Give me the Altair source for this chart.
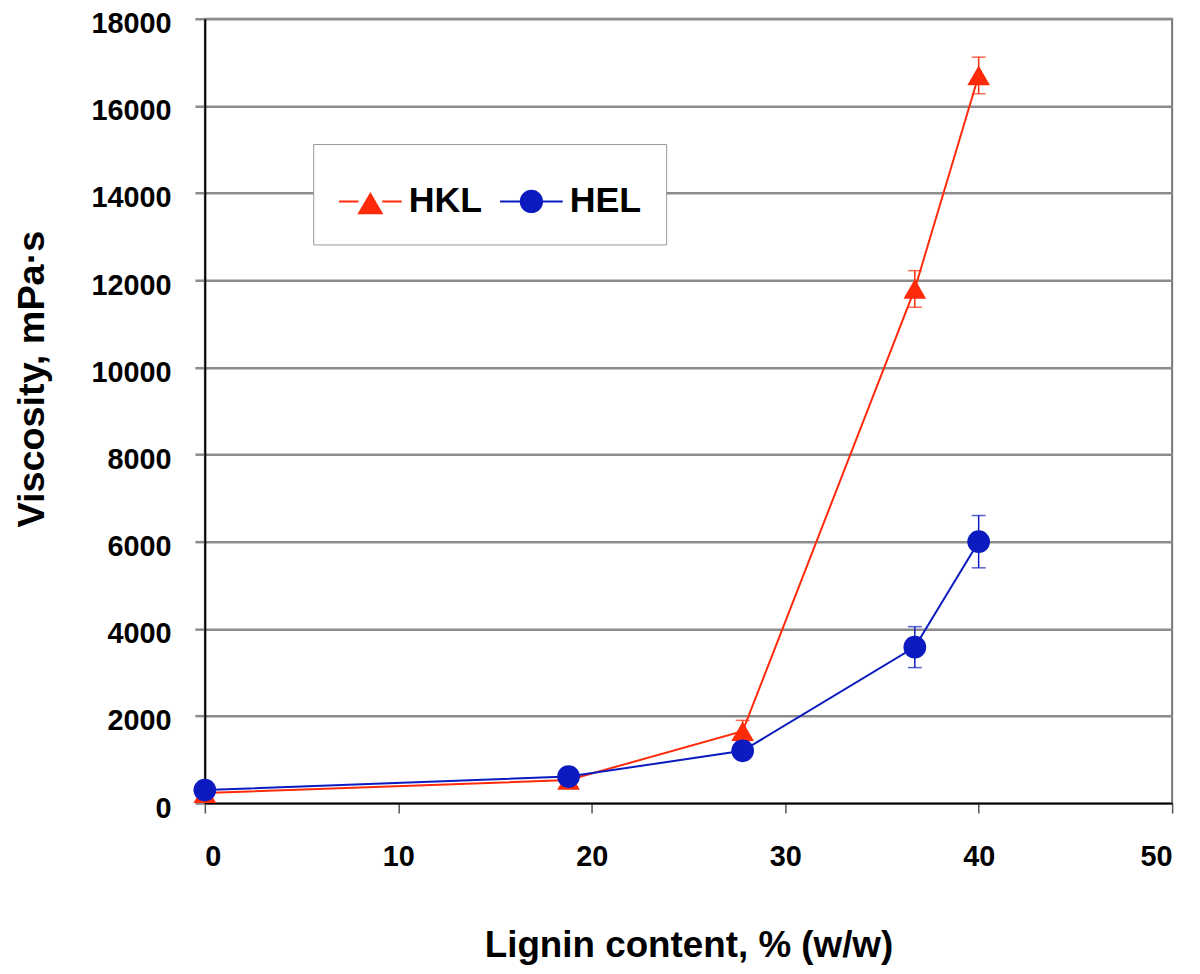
import altair as alt
import pandas as pd

series_names = ["HKL", "HEL"]
series_colors = ["#ff2a0a", "#0b1bbf"]
lignin = [0, 18.8, 27.8, 36.7, 40.0]
hkl_visc = [230, 530, 1650, 11800, 16700]
hkl_err = [60, 80, 250, 420, 420]
hel_visc = [300, 610, 1200, 3580, 6000]
hel_err = [60, 80, 100, 470, 600]
x_ticks = [0, 10, 20, 30, 40, 50]
y_ticks = [0, 2000, 4000, 6000, 8000, 10000, 12000, 14000, 16000, 18000]

rows = []
for s, vals, errs in [("HKL", hkl_visc, hkl_err), ("HEL", hel_visc, hel_err)]:
    for xv, yv, ev in zip(lignin, vals, errs):
        rows.append({"series": s, "x": xv, "y": yv, "lo": yv - ev, "hi": yv + ev})
df = pd.DataFrame(rows)

FONT = "Liberation Sans"

x_enc = alt.X(
    "x:Q",
    scale=alt.Scale(domain=[0, 50], nice=False),
    axis=alt.Axis(
        values=x_ticks, grid=False, title="Lignin content, % (w/w)", format="d",
        domainColor="black", domainWidth=2, tickColor="#555", tickSize=10, tickWidth=1.5,
        labelFont=FONT, labelFontSize=29, labelFontWeight="bold", labelColor="black",
        labelPadding=30, titleFont=FONT, titleFontSize=37, titleFontWeight="bold",
        titleColor="black", titlePadding=56,
    ),
)
y_enc = alt.Y(
    "y:Q",
    scale=alt.Scale(domain=[0, 18000], nice=False),
    axis=alt.Axis(
        values=y_ticks, grid=True, gridColor="#8c8c8c", gridWidth=2.5,
        title="Viscosity, mPa·s", format="d",
        domainColor="black", domainWidth=2, tickColor="#8c8c8c", tickSize=10, tickWidth=2.5,
        labelFont=FONT, labelFontSize=29, labelFontWeight="bold", labelColor="black",
        labelPadding=24, labelOffset=5, titleFont=FONT, titleFontSize=38, titleFontWeight="bold",
        titleColor="black", titlePadding=40, titleY=362,
    ),
)

layers = []
shapes = {"HKL": "triangle-up", "HEL": "circle"}
for s, c in zip(series_names, series_colors):
    base = alt.Chart(df).transform_filter(alt.datum.series == s)
    line = base.mark_line(color=c, strokeWidth=2).encode(x=x_enc, y=y_enc)
    rule = base.mark_rule(color=c, strokeWidth=1.5).encode(x="x:Q", y="lo:Q", y2="hi:Q")
    cap_lo = base.mark_tick(color=c, orient="horizontal", size=14, thickness=1.5).encode(x="x:Q", y="lo:Q")
    cap_hi = base.mark_tick(color=c, orient="horizontal", size=14, thickness=1.5).encode(x="x:Q", y="hi:Q")
    pts = base.mark_point(shape=shapes[s], filled=True, size=520, color=c, opacity=1).encode(x="x:Q", y="y:Q")
    layers += [line, rule, cap_lo, cap_hi, pts]

tri_path = "M-1,0L-0.38,0M0.38,0L1,0M0,-0.24L0.36,0.38L-0.36,0.38Z"
circ_path = "M-1,0L-0.34,0M0.34,0L1,0M-0.34,0A0.34,0.34,0,1,0,0.34,0A0.34,0.34,0,1,0,-0.34,0Z"

leg = alt.Legend(
    title=None, orient="none", legendX=109, legendY=126, direction="horizontal", columns=2,
    labelFont=FONT, labelFontSize=36, labelFontWeight="bold", labelColor="black",
    symbolSize=3969, symbolStrokeWidth=2, symbolOpacity=1, padding=25,
    strokeColor="#999", fillColor="white", labelOffset=6, columnPadding=14, labelLimit=300,
)
legend_layer = alt.Chart(df).mark_point(filled=True, opacity=0).encode(
    x="x:Q", y="y:Q",
    fill=alt.Fill("series:N", scale=alt.Scale(domain=series_names, range=series_colors), legend=leg),
    stroke=alt.Stroke("series:N", scale=alt.Scale(domain=series_names, range=series_colors), legend=leg),
    shape=alt.Shape("series:N", scale=alt.Scale(domain=series_names, range=[tri_path, circ_path]), legend=leg),
)

chart = alt.layer(*layers, legend_layer).properties(
    width=973, height=789,
    autosize=alt.AutoSizeParams(type="none"),
    padding={"left": 198, "top": 8, "right": 20, "bottom": 160},
).configure_view(stroke="#777", strokeWidth=2)

chart.save("out.html", embed_options={"renderer": "svg", "actions": False})
